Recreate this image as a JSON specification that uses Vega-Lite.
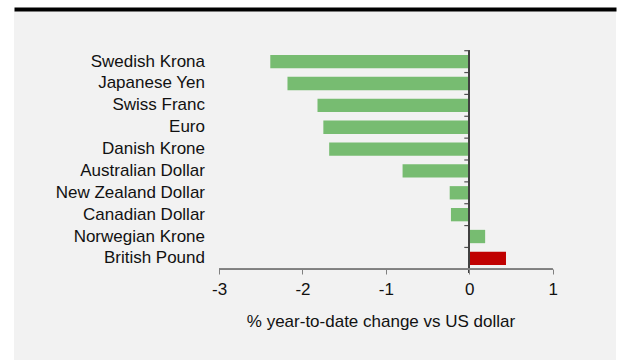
{
  "$schema": "https://vega.github.io/schema/vega-lite/v6.json",
  "width": 602,
  "height": 349,
  "autosize": "none",
  "padding": {"left": 14, "right": 24, "top": 11, "bottom": 0},
  "background": "white",
  "config": {"view": {"fill": "#f2f2f2", "stroke": null}, "font": "Liberation Sans"},
  "data": {"values": [
    {"currency": "Swedish Krona", "change": -2.386},
    {"currency": "Japanese Yen", "change": -2.18},
    {"currency": "Swiss Franc", "change": -1.82},
    {"currency": "Euro", "change": -1.75},
    {"currency": "Danish Krone", "change": -1.68},
    {"currency": "Australian Dollar", "change": -0.80},
    {"currency": "New Zealand Dollar", "change": -0.235},
    {"currency": "Canadian Dollar", "change": -0.22},
    {"currency": "Norwegian Krone", "change": 0.19},
    {"currency": "British Pound", "change": 0.44}
  ]},
  "layer": [
    {
      "mark": {"type": "bar"},
      "encoding": {
        "y": {"field": "currency", "type": "nominal", "sort": null,
          "scale": {"range": [39.7, 258.3], "paddingInner": 0.39, "paddingOuter": 0.195, "round": false},
          "axis": {"orient": "left", "offset": -455.3, "domain": false, "ticks": false, "labelPadding": 264.8, "title": null, "labelFontSize": 17, "labelColor": "#111111", "labelLimit": 300}},
        "x": {"field": "change", "type": "quantitative",
          "scale": {"domain": [-5.459, 1.759], "nice": false, "zero": false},
          "axis": {"orient": "bottom", "offset": -91, "zindex": 2, "values": [-3, -2, -1, 0, 1], "labelExpr": "'' + datum.value", "domain": false, "grid": false, "tickSize": 5, "tickColor": "#808080", "labelPadding": 7.6, "labelFontSize": 17, "labelColor": "#111111", "title": "% year-to-date change vs US dollar", "titleFontSize": 17, "titleFontWeight": "normal", "titleColor": "#111111", "titleX": 366.5, "titleAlign": "center", "titleY": 57, "titleBaseline": "alphabetic"}},
        "color": {"condition": {"test": "datum.currency === 'British Pound'", "value": "#c00000"}, "value": "#77bc71"}
      }
    },
    {
      "mark": {"type": "rule", "color": "#505050", "strokeWidth": 1.2},
      "encoding": {
        "x": {"datum": -0.06, "type": "quantitative", "axis": null},
        "x2": {"datum": 0},
        "y": {"field": "currency", "type": "nominal", "sort": null, "bandPosition": -0.32, "axis": null}
      }
    },
    {
      "mark": {"type": "rule", "color": "#404040", "strokeWidth": 1.3},
      "encoding": {
        "x": {"datum": 0, "type": "quantitative", "axis": null},
        "y": {"datum": "Swedish Krona", "type": "nominal", "bandPosition": -0.32, "axis": null},
        "y2": {"datum": "British Pound", "bandPosition": 1.6}
      }
    },
    {
      "mark": {"type": "rule", "color": "#808080", "strokeWidth": 1.2},
      "encoding": {
        "x": {"datum": -3, "type": "quantitative",
          "axis": {"orient": "top", "offset": 2, "domain": true, "domainColor": "#000000", "domainWidth": 4, "ticks": false, "labels": false, "grid": false, "title": null}},
        "x2": {"datum": 1},
        "y": {"datum": "British Pound", "type": "nominal", "bandPosition": 1.32, "axis": null}
      }
    }
  ],
  "resolve": {"axis": {"x": "independent", "y": "independent"}}
}
